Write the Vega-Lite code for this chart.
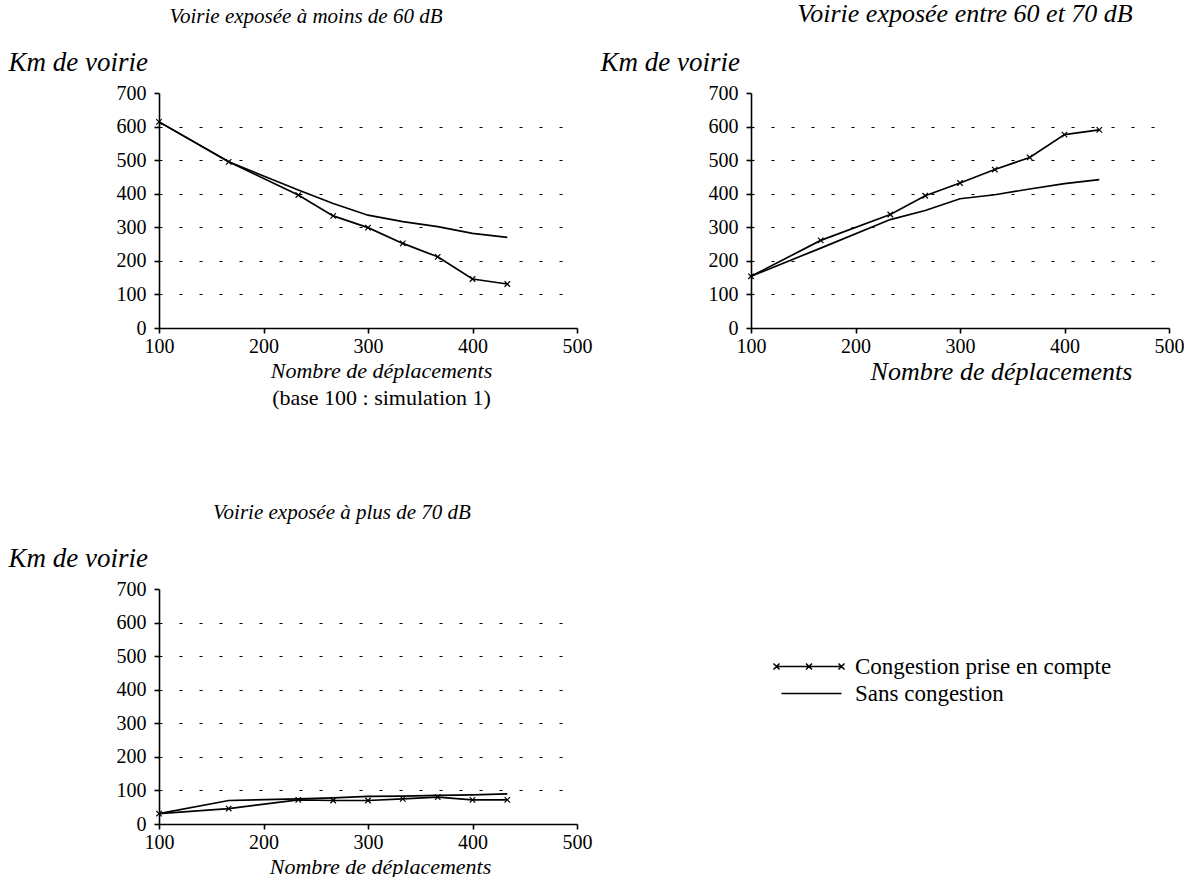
{
  "$schema": "https://vega.github.io/schema/vega-lite/v6.json",
  "padding": {"left": 8, "top": 1, "right": 0, "bottom": 0},
  "background": "white",
  "config": {
    "font": "Liberation Serif",
    "view": {"stroke": null},
    "title": {"fontSize": 21, "fontStyle": "italic", "fontWeight": "normal", "color": "black", "frame": "group", "anchor": "middle", "offset": 21},
    "axis": {"labelFontSize": 20, "labelColor": "black", "labelFont": "Liberation Serif", "titleFont": "Liberation Serif", "domainColor": "black", "tickColor": "black", "titleFontSize": 22, "titleFontStyle": "italic", "titleFontWeight": "normal", "titleColor": "black", "domainWidth": 1.6, "tickWidth": 1.6, "labelOverlap": false}
  },
  "datasets": {
    "lt60": [
      {"x": 100, "serie": "Congestion prise en compte", "km": 614},
      {"x": 166.7, "serie": "Congestion prise en compte", "km": 495},
      {"x": 233.3, "serie": "Congestion prise en compte", "km": 396},
      {"x": 266.7, "serie": "Congestion prise en compte", "km": 334},
      {"x": 300, "serie": "Congestion prise en compte", "km": 299},
      {"x": 333.3, "serie": "Congestion prise en compte", "km": 252},
      {"x": 366.7, "serie": "Congestion prise en compte", "km": 212},
      {"x": 400, "serie": "Congestion prise en compte", "km": 146},
      {"x": 433.3, "serie": "Congestion prise en compte", "km": 131},
      {"x": 100, "serie": "Sans congestion", "km": 614},
      {"x": 166.7, "serie": "Sans congestion", "km": 495},
      {"x": 233.3, "serie": "Sans congestion", "km": 411},
      {"x": 266.7, "serie": "Sans congestion", "km": 371},
      {"x": 300, "serie": "Sans congestion", "km": 336},
      {"x": 333.3, "serie": "Sans congestion", "km": 317},
      {"x": 366.7, "serie": "Sans congestion", "km": 302},
      {"x": 400, "serie": "Sans congestion", "km": 282},
      {"x": 433.3, "serie": "Sans congestion", "km": 270}
    ],
    "b6070": [
      {"x": 100, "serie": "Congestion prise en compte", "km": 154},
      {"x": 166.7, "serie": "Congestion prise en compte", "km": 261},
      {"x": 233.3, "serie": "Congestion prise en compte", "km": 338},
      {"x": 266.7, "serie": "Congestion prise en compte", "km": 394},
      {"x": 300, "serie": "Congestion prise en compte", "km": 432},
      {"x": 333.3, "serie": "Congestion prise en compte", "km": 472},
      {"x": 366.7, "serie": "Congestion prise en compte", "km": 508},
      {"x": 400, "serie": "Congestion prise en compte", "km": 576},
      {"x": 433.3, "serie": "Congestion prise en compte", "km": 590},
      {"x": 100, "serie": "Sans congestion", "km": 154},
      {"x": 166.7, "serie": "Sans congestion", "km": 238},
      {"x": 233.3, "serie": "Sans congestion", "km": 323},
      {"x": 266.7, "serie": "Sans congestion", "km": 350},
      {"x": 300, "serie": "Sans congestion", "km": 385},
      {"x": 333.3, "serie": "Sans congestion", "km": 397},
      {"x": 366.7, "serie": "Sans congestion", "km": 414},
      {"x": 400, "serie": "Sans congestion", "km": 430},
      {"x": 433.3, "serie": "Sans congestion", "km": 442}
    ],
    "gt70": [
      {"x": 100, "serie": "Congestion prise en compte", "km": 31},
      {"x": 166.7, "serie": "Congestion prise en compte", "km": 46},
      {"x": 233.3, "serie": "Congestion prise en compte", "km": 72},
      {"x": 266.7, "serie": "Congestion prise en compte", "km": 70},
      {"x": 300, "serie": "Congestion prise en compte", "km": 70},
      {"x": 333.3, "serie": "Congestion prise en compte", "km": 75},
      {"x": 366.7, "serie": "Congestion prise en compte", "km": 80},
      {"x": 400, "serie": "Congestion prise en compte", "km": 72},
      {"x": 433.3, "serie": "Congestion prise en compte", "km": 72},
      {"x": 100, "serie": "Sans congestion", "km": 31},
      {"x": 166.7, "serie": "Sans congestion", "km": 70},
      {"x": 233.3, "serie": "Sans congestion", "km": 75},
      {"x": 266.7, "serie": "Sans congestion", "km": 78},
      {"x": 300, "serie": "Sans congestion", "km": 82},
      {"x": 333.3, "serie": "Sans congestion", "km": 83},
      {"x": 366.7, "serie": "Sans congestion", "km": 85},
      {"x": 400, "serie": "Sans congestion", "km": 87},
      {"x": 433.3, "serie": "Sans congestion", "km": 90}
    ]
  },
  "resolve": {"scale": {"color": "independent"}, "legend": {"color": "independent"}},
  "spacing": 496,
  "bounds": "flush",
  "vconcat": [
    {
      "hconcat": [
        {
          "width": 418, "height": 235,
          "title": {"text": "Voirie exposée à moins de 60 dB", "dx": -62},
          "data": {"name": "lt60"},
          "resolve": {"axis": {"x": "independent"}},
          "encoding": {
            "y": {"field": "km", "type": "quantitative", "scale": {"domain": [0, 700], "nice": false}, "axis": {"values": [0, 100, 200, 300, 400, 500, 600, 700], "title": "Km de voirie", "titleFontSize": 27, "titleAngle": 0, "titleAlign": "left", "titleBaseline": "middle", "titleX": -151, "titleY": -31, "grid": true, "gridDash": [3, 17], "gridColor": "black", "gridWidth": 1.2, "gridOpacity": {"condition": {"test": "datum.value === 0 || datum.value === 700", "value": 0}, "value": 1}, "tickSize": 5, "labelPadding": 8}}
          },
          "layer": [
            {
              "mark": {"type": "line", "color": "black", "strokeWidth": 1.7},
              "encoding": {
                "x": {"field": "x", "type": "quantitative", "scale": {"domain": [100, 500], "nice": false}, "axis": {"values": [100, 200, 300, 400, 500], "title": "Nombre de déplacements", "titleX": 222, "grid": false, "tickSize": 5, "labelPadding": 3, "titlePadding": 4, "labelFlush": false}},
                "detail": {"field": "serie", "type": "nominal"}
              }
            },
            {
              "transform": [{"filter": "datum.serie === 'Congestion prise en compte'"}],
              "mark": {"type": "point", "shape": "M-1,-1L1,1M-1,1L1,-1", "filled": false, "stroke": "black", "strokeWidth": 1.2, "size": 30, "opacity": 1},
              "encoding": {
                "x": {"field": "x", "type": "quantitative", "axis": {"orient": "bottom", "domain": false, "ticks": false, "labels": false, "grid": false, "title": "(base 100 : simulation 1)", "titleX": 222, "titleFontStyle": "normal", "titleFontSize": 22, "titlePadding": 59}}
              }
            }
          ]
        },
        {
          "width": 418, "height": 235,
          "title": {"text": "Voirie exposée entre 60 et 70 dB", "fontSize": 26, "dx": 5},
          "data": {"name": "b6070"},
          "encoding": {
            "x": {"field": "x", "type": "quantitative", "scale": {"domain": [100, 500], "nice": false}, "axis": {"values": [100, 200, 300, 400, 500], "title": "Nombre de déplacements", "titleFontSize": 26, "titleX": 250, "grid": false, "tickSize": 5, "labelPadding": 3, "titlePadding": 2, "labelFlush": false}},
            "y": {"field": "km", "type": "quantitative", "scale": {"domain": [0, 700], "nice": false}, "axis": {"values": [0, 100, 200, 300, 400, 500, 600, 700], "title": "Km de voirie", "titleFontSize": 27, "titleAngle": 0, "titleAlign": "left", "titleBaseline": "middle", "titleX": -151, "titleY": -31, "grid": true, "gridDash": [3, 17], "gridColor": "black", "gridWidth": 1.2, "gridOpacity": {"condition": {"test": "datum.value === 0 || datum.value === 700", "value": 0}, "value": 1}, "tickSize": 5, "labelPadding": 8}}
          },
          "layer": [
            {
              "mark": {"type": "line", "color": "black", "strokeWidth": 1.7},
              "encoding": {"detail": {"field": "serie", "type": "nominal"}}
            },
            {
              "transform": [{"filter": "datum.serie === 'Congestion prise en compte'"}],
              "mark": {"type": "point", "shape": "M-1,-1L1,1M-1,1L1,-1", "filled": false, "stroke": "black", "strokeWidth": 1.2, "size": 30, "opacity": 1},
              "encoding": {}
            }
          ]
        }
      ],
      "spacing": 174,
      "bounds": "flush"
    },
    {
      "width": 418, "height": 235,
      "title": {"text": "Voirie exposée à plus de 70 dB", "dx": -26},
      "data": {"name": "gt70"},
      "encoding": {
        "x": {"field": "x", "type": "quantitative", "scale": {"domain": [100, 500], "nice": false}, "axis": {"values": [100, 200, 300, 400, 500], "title": "Nombre de déplacements", "titleX": 221, "grid": false, "tickSize": 5, "labelPadding": 3, "titlePadding": 4, "labelFlush": false}},
        "y": {"field": "km", "type": "quantitative", "scale": {"domain": [0, 700], "nice": false}, "axis": {"values": [0, 100, 200, 300, 400, 500, 600, 700], "title": "Km de voirie", "titleFontSize": 27, "titleAngle": 0, "titleAlign": "left", "titleBaseline": "middle", "titleX": -151, "titleY": -31, "grid": true, "gridDash": [3, 17], "gridColor": "black", "gridWidth": 1.2, "gridOpacity": {"condition": {"test": "datum.value === 0 || datum.value === 700", "value": 0}, "value": 1}, "tickSize": 5, "labelPadding": 8}}
      },
      "layer": [
        {
          "mark": {"type": "line", "strokeWidth": 1.7},
          "encoding": {
            "color": {"field": "serie", "type": "nominal", "scale": {"domain": ["Congestion prise en compte", "Sans congestion"], "range": ["black", "black"]},
              "legend": {"orient": "none", "legendX": 616, "legendY": 66, "title": null, "labelFont": "Liberation Serif", "labelFontSize": 23, "labelColor": "black", "labelLimit": 500, "symbolType": "stroke", "symbolSize": 400, "symbolStrokeWidth": 1.5, "rowPadding": 3, "labelOffset": 57,
                "encode": {"symbols": {"update": {"shape": {"signal": "datum.value === 'Sans congestion' ? 'M-0.5,0L5.5,0' : 'M-1,0L5.5,0M-1.3,-0.3L-0.7,0.3M-1.3,0.3L-0.7,-0.3M1.95,-0.3L2.55,0.3M1.95,0.3L2.55,-0.3M5.2,-0.3L5.8,0.3M5.2,0.3L5.8,-0.3'"}, "stroke": {"value": "black"}, "strokeWidth": {"value": 1.5}}}}}}
          }
        },
        {
          "transform": [{"filter": "datum.serie === 'Congestion prise en compte'"}],
          "mark": {"type": "point", "shape": "M-1,-1L1,1M-1,1L1,-1", "filled": false, "stroke": "black", "strokeWidth": 1.2, "size": 30, "opacity": 1},
          "encoding": {}
        }
      ]
    }
  ]
}
